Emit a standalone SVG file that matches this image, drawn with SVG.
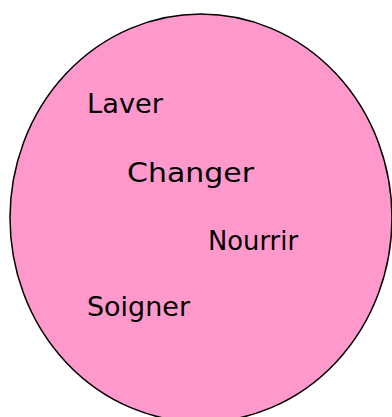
<svg xmlns="http://www.w3.org/2000/svg" width="392" height="417" viewBox="0 0 392 417">
<style>
.bg{fill:#ffffff}
.blob{fill:#ff99cc;stroke:#000000;stroke-width:1.5}
.lbl{font-family:"DejaVu Sans","Liberation Sans",sans-serif;font-size:27px;fill:#000000}
</style>
<rect class="bg" x="0" y="0" width="392" height="417"/>
<g id="ellipse"><ellipse class="blob" cx="201" cy="218" rx="191" ry="204"/></g>
<g id="laver"><text class="lbl" x="87" y="113" textLength="76" lengthAdjust="spacingAndGlyphs">Laver</text></g>
<g id="changer"><text class="lbl" x="127" y="182" textLength="127" lengthAdjust="spacingAndGlyphs">Changer</text></g>
<g id="nourrir"><text class="lbl" x="208" y="250" textLength="90" lengthAdjust="spacingAndGlyphs">Nourrir</text></g>
<g id="soigner"><text class="lbl" x="87" y="316" textLength="103" lengthAdjust="spacingAndGlyphs">Soigner</text></g>
<g id="connectors"></g>
</svg>
